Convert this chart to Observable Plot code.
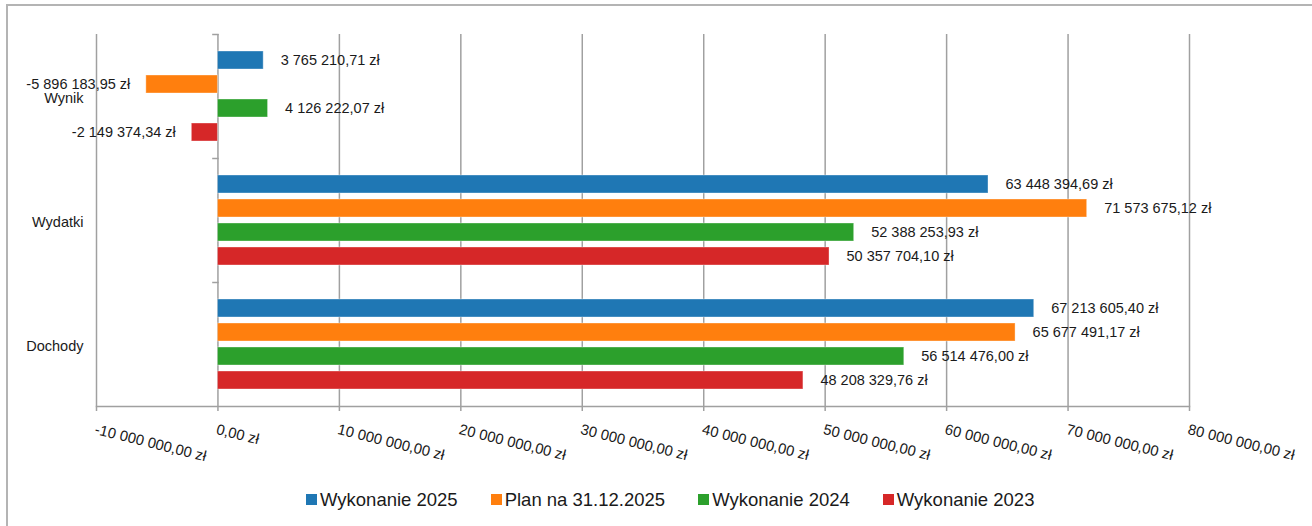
<!DOCTYPE html>
<html>
<head>
<meta charset="utf-8">
<script src="https://cdn.jsdelivr.net/npm/d3@7"></script>
<script src="https://cdn.jsdelivr.net/npm/@observablehq/plot@0.6"></script>
<style>
  html, body { margin: 0; padding: 0; background: #fff; }
  body { width: 1312px; height: 526px; overflow: hidden; position: relative; font-family: "Liberation Sans", Arial, sans-serif; }
  #border { position: absolute; left: 6px; top: 4px; width: 1400px; height: 700px; border: 2px solid #b4b4b4; box-sizing: border-box; }
  #chart { position: absolute; left: 0; top: 0; }
  #legend { position: absolute; left: 306px; top: 489px; display: flex; justify-content: flex-start; gap: 33px; font-size: 18.5px; line-height: 21px; color: #1a1a1a; white-space: nowrap; }
  #legend .item { display: flex; align-items: center; gap: 3px; }
  #legend .sw { width: 11px; height: 11px; display: inline-block; margin-top: -1px; }
</style>
</head>
<body>
<div id="border"></div>
<div id="chart"></div>
<div id="legend"></div>
<script>
// ---- data ----
const categories = ["Wynik", "Wydatki", "Dochody"];
const series = ["Wykonanie 2025", "Plan na 31.12.2025", "Wykonanie 2024", "Wykonanie 2023"];
const colors = ["#1f77b4", "#ff7f0e", "#2ca02c", "#d62728"];
const wynik   = [3765210.71, -5896183.95, 4126222.07, -2149374.34];
const wydatki = [63448394.69, 71573675.12, 52388253.93, 50357704.10];
const dochody = [67213605.40, 65677491.17, 56514476.00, 48208329.76];
const xTicks = [-10000000, 0, 10000000, 20000000, 30000000, 40000000, 50000000, 60000000, 70000000, 80000000];
const xDomain = [-10000000, 80000000];

const valuesByCategory = {Wynik: wynik, Wydatki: wydatki, Dochody: dochody};
const rows = categories.flatMap(c => series.map((s, i) => ({category: c, series: s, value: valuesByCategory[c][i]})));

const locale = d3.formatLocale({decimal: ",", thousands: " ", grouping: [3], currency: ["", ""], minus: "-"});
const num = locale.format(",.2f");
const fmt = v => num(v) + " zł";

// ---- layout ----
const W = 1312, H = 470, mL = 96, mR = 123, mT = 33, mB = 63;
const gridColor = "#a0a0a0";
const xs = d3.scaleLinear(xDomain, [mL, W - mR]);
const tickLen = 5;

const chart = Plot.plot({
  width: W,
  height: H,
  marginLeft: mL,
  marginRight: mR,
  marginTop: mT,
  marginBottom: mB,
  style: {fontFamily: "'Liberation Sans', Arial, sans-serif", fontSize: "14.5px", color: "#1a1a1a", background: "transparent"},
  x: {domain: xDomain},
  y: {domain: series, paddingInner: 0.24, paddingOuter: 0.62, axis: null},
  fy: {domain: categories, padding: 0, axis: null},
  color: {domain: series, range: colors},
  marks: [
    Plot.gridX({ticks: xTicks, stroke: gridColor, strokeOpacity: 1, strokeWidth: 1.5}),
    Plot.frame({anchor: "top", stroke: gridColor, strokeWidth: 1.5,
      insetLeft: xs(0) - tickLen - mL, insetRight: W - mR - xs(0)}),
    Plot.frame({anchor: "bottom", facetAnchor: "bottom", stroke: gridColor, strokeWidth: 1.5}),
    Plot.axisX({ticks: xTicks, tickFormat: fmt, tickSize: tickLen, tickPadding: 12, tickRotate: 14,
      textAnchor: "start", lineAnchor: "top", stroke: gridColor, strokeWidth: 1.5, strokeOpacity: 1,
      fontSize: 14.8, fill: "#1a1a1a", label: null}),
    Plot.barX(rows, {x: "value", y: "series", fy: "category", fill: "series",
      stroke: "#ffffff", strokeOpacity: 0.35, strokeWidth: 1}),
    Plot.text(rows.filter(d => d.value >= 0), {x: "value", y: "series", fy: "category", text: d => fmt(d.value),
      textAnchor: "start", dx: 17, fill: "#1a1a1a"}),
    Plot.text(rows.filter(d => d.value < 0), {x: "value", y: "series", fy: "category", text: d => fmt(d.value),
      textAnchor: "end", dx: -16, fill: "#1a1a1a"}),
    Plot.text(categories, {fy: d => d, text: d => d, frameAnchor: "left", textAnchor: "end", dx: -13, dy: 2, fill: "#1a1a1a"})
  ]
});
document.getElementById("chart").append(chart);

// ---- legend ----
const legend = document.getElementById("legend");
series.forEach((s, i) => {
  const item = document.createElement("div");
  item.className = "item";
  const sw = document.createElement("span");
  sw.className = "sw";
  sw.style.background = colors[i];
  const t = document.createElement("span");
  t.textContent = s;
  item.append(sw, t);
  legend.append(item);
});
</script>
</body>
</html>
